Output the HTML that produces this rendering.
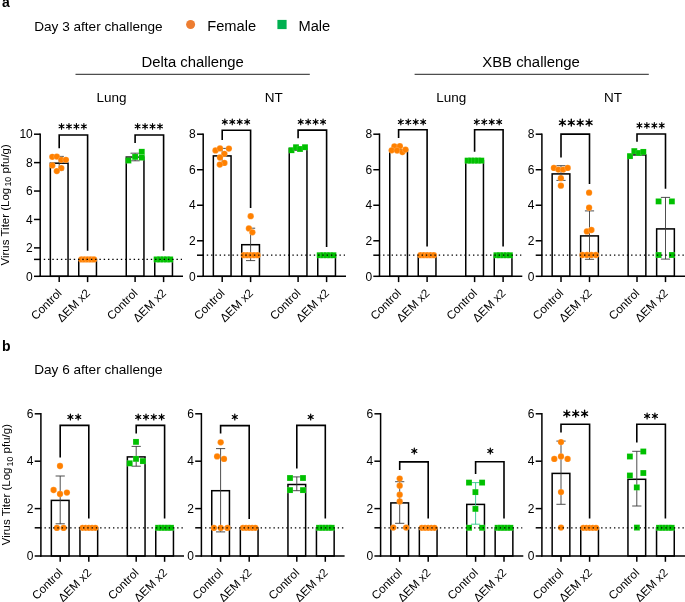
<!DOCTYPE html><html><head><meta charset="utf-8"><style>html,body{margin:0;padding:0;background:#fff;}svg{display:block;will-change:transform;}text{font-family:"Liberation Sans",sans-serif;}</style></head><body>
<svg width="685" height="602" viewBox="0 0 685 602">
<rect width="685" height="602" fill="#fff"/>
<text x="2.00" y="7.30" font-size="14" text-anchor="start" font-weight="bold" fill="#000" >a</text>
<text x="34.20" y="30.85" font-size="13.6" text-anchor="start" font-weight="normal" fill="#000" >Day 3 after challenge</text>
<circle cx="190.6" cy="24.5" r="4.5" fill="#ED7D31"/>
<text x="207.20" y="30.70" font-size="14.67" text-anchor="start" font-weight="normal" fill="#000" >Female</text>
<rect x="277.4" y="19.9" width="9.2" height="9.2" fill="#00B050"/>
<text x="298.50" y="30.70" font-size="14.67" text-anchor="start" font-weight="normal" fill="#000" >Male</text>
<text x="192.65" y="66.80" font-size="14.85" text-anchor="middle" font-weight="normal" fill="#000" >Delta challenge</text>
<text x="531.05" y="66.80" font-size="14.9" text-anchor="middle" font-weight="normal" fill="#000" >XBB challenge</text>
<line x1="75.50" y1="74.30" x2="309.80" y2="74.30" stroke="#222" stroke-width="1.0" />
<line x1="414.60" y1="74.30" x2="648.80" y2="74.30" stroke="#222" stroke-width="1.0" />
<text x="111.40" y="101.75" font-size="13.5" text-anchor="middle" font-weight="normal" fill="#000" >Lung</text>
<text x="273.80" y="101.75" font-size="13.5" text-anchor="middle" font-weight="normal" fill="#000" >NT</text>
<text x="451.30" y="101.75" font-size="13.5" text-anchor="middle" font-weight="normal" fill="#000" >Lung</text>
<text x="613.00" y="101.75" font-size="13.5" text-anchor="middle" font-weight="normal" fill="#000" >NT</text>
<text transform="translate(8.70,265.50) rotate(-90)" font-size="11.5">Virus Titer (Log</text>
<text transform="translate(11.00,186.60) rotate(-90)" font-size="8.8">10</text>
<text transform="translate(8.70,173.60) rotate(-90)" font-size="11.5">pfu/g)</text>
<text transform="translate(10.40,545.30) rotate(-90)" font-size="11.5">Virus Titer (Log</text>
<text transform="translate(12.70,466.40) rotate(-90)" font-size="8.8">10</text>
<text transform="translate(10.40,453.40) rotate(-90)" font-size="11.5">pfu/g)</text>
<rect x="50.35" y="163.20" width="17.7" height="113.10" fill="none" stroke="#000" stroke-width="1.5"/>
<rect x="78.75" y="259.40" width="17.7" height="16.90" fill="none" stroke="#000" stroke-width="1.5"/>
<rect x="126.25" y="157.10" width="17.7" height="119.20" fill="none" stroke="#000" stroke-width="1.5"/>
<rect x="154.75" y="259.40" width="17.7" height="16.90" fill="none" stroke="#000" stroke-width="1.5"/>
<line x1="59.20" y1="156.40" x2="59.20" y2="170.00" stroke="#3a3a3a" stroke-width="0.9" />
<line x1="54.60" y1="156.40" x2="63.80" y2="156.40" stroke="#3a3a3a" stroke-width="0.9" />
<line x1="54.60" y1="170.00" x2="63.80" y2="170.00" stroke="#3a3a3a" stroke-width="0.9" />
<line x1="135.10" y1="153.20" x2="135.10" y2="160.80" stroke="#3a3a3a" stroke-width="0.9" />
<line x1="130.50" y1="153.20" x2="139.70" y2="153.20" stroke="#3a3a3a" stroke-width="0.9" />
<line x1="130.50" y1="160.80" x2="139.70" y2="160.80" stroke="#3a3a3a" stroke-width="0.9" />
<circle cx="52.30" cy="156.80" r="3.15" fill="#FF8000" stroke="#fff" stroke-opacity="0.35" stroke-width="0.5"/>
<circle cx="56.80" cy="156.60" r="3.15" fill="#FF8000" stroke="#fff" stroke-opacity="0.35" stroke-width="0.5"/>
<circle cx="61.30" cy="159.80" r="3.15" fill="#FF8000" stroke="#fff" stroke-opacity="0.35" stroke-width="0.5"/>
<circle cx="65.90" cy="159.80" r="3.15" fill="#FF8000" stroke="#fff" stroke-opacity="0.35" stroke-width="0.5"/>
<circle cx="52.30" cy="165.40" r="3.15" fill="#FF8000" stroke="#fff" stroke-opacity="0.35" stroke-width="0.5"/>
<circle cx="61.30" cy="168.10" r="3.15" fill="#FF8000" stroke="#fff" stroke-opacity="0.35" stroke-width="0.5"/>
<circle cx="56.80" cy="171.10" r="3.15" fill="#FF8000" stroke="#fff" stroke-opacity="0.35" stroke-width="0.5"/>
<circle cx="81.40" cy="259.40" r="3.15" fill="#FF8000" stroke="#fff" stroke-opacity="0.35" stroke-width="0.5"/>
<circle cx="84.55" cy="259.40" r="3.15" fill="#FF8000" stroke="#fff" stroke-opacity="0.35" stroke-width="0.5"/>
<circle cx="87.70" cy="259.40" r="3.15" fill="#FF8000" stroke="#fff" stroke-opacity="0.35" stroke-width="0.5"/>
<circle cx="90.85" cy="259.40" r="3.15" fill="#FF8000" stroke="#fff" stroke-opacity="0.35" stroke-width="0.5"/>
<circle cx="94.00" cy="259.40" r="3.15" fill="#FF8000" stroke="#fff" stroke-opacity="0.35" stroke-width="0.5"/>
<rect x="125.45" y="157.55" width="5.9" height="5.9" fill="#00C000" stroke="#fff" stroke-opacity="0.3" stroke-width="0.4"/>
<rect x="132.15" y="153.95" width="5.9" height="5.9" fill="#00C000" stroke="#fff" stroke-opacity="0.3" stroke-width="0.4"/>
<rect x="138.85" y="148.85" width="5.9" height="5.9" fill="#00C000" stroke="#fff" stroke-opacity="0.3" stroke-width="0.4"/>
<rect x="138.85" y="154.65" width="5.9" height="5.9" fill="#00C000" stroke="#fff" stroke-opacity="0.3" stroke-width="0.4"/>
<rect x="153.65" y="256.45" width="5.9" height="5.9" fill="#00C000" stroke="#fff" stroke-opacity="0.3" stroke-width="0.4"/>
<rect x="157.05" y="256.45" width="5.9" height="5.9" fill="#00C000" stroke="#fff" stroke-opacity="0.3" stroke-width="0.4"/>
<rect x="160.45" y="256.45" width="5.9" height="5.9" fill="#00C000" stroke="#fff" stroke-opacity="0.3" stroke-width="0.4"/>
<rect x="163.85" y="256.45" width="5.9" height="5.9" fill="#00C000" stroke="#fff" stroke-opacity="0.3" stroke-width="0.4"/>
<rect x="167.25" y="256.45" width="5.9" height="5.9" fill="#00C000" stroke="#fff" stroke-opacity="0.3" stroke-width="0.4"/>
<line x1="39.50" y1="259.40" x2="182.00" y2="259.40" stroke="#000" stroke-width="1.2" stroke-dasharray="1.4 2.88"/>
<line x1="40.20" y1="133.45" x2="40.20" y2="277.05" stroke="#000" stroke-width="1.5" />
<line x1="39.45" y1="276.30" x2="183.00" y2="276.30" stroke="#000" stroke-width="1.5" />
<line x1="34.00" y1="276.30" x2="40.20" y2="276.30" stroke="#000" stroke-width="1.5" />
<text x="32.80" y="280.50" font-size="12" text-anchor="end" font-weight="normal" fill="#000" >0</text>
<line x1="34.00" y1="247.88" x2="40.20" y2="247.88" stroke="#000" stroke-width="1.5" />
<text x="32.80" y="252.08" font-size="12" text-anchor="end" font-weight="normal" fill="#000" >2</text>
<line x1="34.00" y1="219.46" x2="40.20" y2="219.46" stroke="#000" stroke-width="1.5" />
<text x="32.80" y="223.66" font-size="12" text-anchor="end" font-weight="normal" fill="#000" >4</text>
<line x1="34.00" y1="191.04" x2="40.20" y2="191.04" stroke="#000" stroke-width="1.5" />
<text x="32.80" y="195.24" font-size="12" text-anchor="end" font-weight="normal" fill="#000" >6</text>
<line x1="34.00" y1="162.62" x2="40.20" y2="162.62" stroke="#000" stroke-width="1.5" />
<text x="32.80" y="166.82" font-size="12" text-anchor="end" font-weight="normal" fill="#000" >8</text>
<line x1="34.00" y1="134.20" x2="40.20" y2="134.20" stroke="#000" stroke-width="1.5" />
<text x="32.80" y="138.40" font-size="12" text-anchor="end" font-weight="normal" fill="#000" >10</text>
<line x1="34.00" y1="259.40" x2="40.20" y2="259.40" stroke="#000" stroke-width="1.5" />
<line x1="59.20" y1="276.30" x2="59.20" y2="282.10" stroke="#000" stroke-width="1.5" />
<text transform="translate(62.40,293.80) rotate(-45)" font-size="11.7" text-anchor="end">Control</text>
<line x1="87.60" y1="276.30" x2="87.60" y2="282.10" stroke="#000" stroke-width="1.5" />
<text transform="translate(90.80,293.80) rotate(-45)" font-size="11.7" text-anchor="end">&#916;EM x2</text>
<line x1="135.10" y1="276.30" x2="135.10" y2="282.10" stroke="#000" stroke-width="1.5" />
<text transform="translate(138.30,293.80) rotate(-45)" font-size="11.7" text-anchor="end">Control</text>
<line x1="163.60" y1="276.30" x2="163.60" y2="282.10" stroke="#000" stroke-width="1.5" />
<text transform="translate(166.80,293.80) rotate(-45)" font-size="11.7" text-anchor="end">&#916;EM x2</text>
<path d="M59.20 148.20V135.00H87.60V250.70" fill="none" stroke="#000" stroke-width="1.6"/>
<path d="M61.53 123.60L61.53 129.20M59.10 125.00L63.95 127.80M59.10 127.80L63.95 125.00" stroke="#000" stroke-width="1.16" stroke-linecap="round" fill="none"/>
<ellipse cx="61.53" cy="126.40" rx="1.23" ry="0.95" fill="#000"/>
<path d="M68.98 123.60L68.98 129.20M66.55 125.00L71.40 127.80M66.55 127.80L71.40 125.00" stroke="#000" stroke-width="1.16" stroke-linecap="round" fill="none"/>
<ellipse cx="68.98" cy="126.40" rx="1.23" ry="0.95" fill="#000"/>
<path d="M76.43 123.60L76.43 129.20M74.00 125.00L78.85 127.80M74.00 127.80L78.85 125.00" stroke="#000" stroke-width="1.16" stroke-linecap="round" fill="none"/>
<ellipse cx="76.43" cy="126.40" rx="1.23" ry="0.95" fill="#000"/>
<path d="M83.88 123.60L83.88 129.20M81.45 125.00L86.30 127.80M81.45 127.80L86.30 125.00" stroke="#000" stroke-width="1.16" stroke-linecap="round" fill="none"/>
<ellipse cx="83.88" cy="126.40" rx="1.23" ry="0.95" fill="#000"/>
<path d="M135.10 142.90V135.00H163.60V250.70" fill="none" stroke="#000" stroke-width="1.6"/>
<path d="M137.62 123.60L137.62 129.20M135.20 125.00L140.05 127.80M135.20 127.80L140.05 125.00" stroke="#000" stroke-width="1.16" stroke-linecap="round" fill="none"/>
<ellipse cx="137.62" cy="126.40" rx="1.23" ry="0.95" fill="#000"/>
<path d="M145.07 123.60L145.07 129.20M142.65 125.00L147.50 127.80M142.65 127.80L147.50 125.00" stroke="#000" stroke-width="1.16" stroke-linecap="round" fill="none"/>
<ellipse cx="145.07" cy="126.40" rx="1.23" ry="0.95" fill="#000"/>
<path d="M152.53 123.60L152.53 129.20M150.10 125.00L154.95 127.80M150.10 127.80L154.95 125.00" stroke="#000" stroke-width="1.16" stroke-linecap="round" fill="none"/>
<ellipse cx="152.53" cy="126.40" rx="1.23" ry="0.95" fill="#000"/>
<path d="M159.97 123.60L159.97 129.20M157.55 125.00L162.40 127.80M157.55 127.80L162.40 125.00" stroke="#000" stroke-width="1.16" stroke-linecap="round" fill="none"/>
<ellipse cx="159.97" cy="126.40" rx="1.23" ry="0.95" fill="#000"/>
<rect x="213.35" y="155.90" width="17.7" height="120.40" fill="none" stroke="#000" stroke-width="1.5"/>
<rect x="241.75" y="244.70" width="17.7" height="31.60" fill="none" stroke="#000" stroke-width="1.5"/>
<rect x="289.25" y="148.60" width="17.7" height="127.70" fill="none" stroke="#000" stroke-width="1.5"/>
<rect x="317.75" y="255.20" width="17.7" height="21.10" fill="none" stroke="#000" stroke-width="1.5"/>
<line x1="222.20" y1="148.40" x2="222.20" y2="163.20" stroke="#3a3a3a" stroke-width="0.9" />
<line x1="217.60" y1="148.40" x2="226.80" y2="148.40" stroke="#3a3a3a" stroke-width="0.9" />
<line x1="217.60" y1="163.20" x2="226.80" y2="163.20" stroke="#3a3a3a" stroke-width="0.9" />
<line x1="250.60" y1="228.20" x2="250.60" y2="260.60" stroke="#3a3a3a" stroke-width="0.9" />
<line x1="246.00" y1="228.20" x2="255.20" y2="228.20" stroke="#3a3a3a" stroke-width="0.9" />
<line x1="246.00" y1="260.60" x2="255.20" y2="260.60" stroke="#3a3a3a" stroke-width="0.9" />
<line x1="298.10" y1="147.00" x2="298.10" y2="150.50" stroke="#3a3a3a" stroke-width="0.9" />
<line x1="293.50" y1="147.00" x2="302.70" y2="147.00" stroke="#3a3a3a" stroke-width="0.9" />
<line x1="293.50" y1="150.50" x2="302.70" y2="150.50" stroke="#3a3a3a" stroke-width="0.9" />
<circle cx="215.50" cy="150.40" r="3.15" fill="#FF8000" stroke="#fff" stroke-opacity="0.35" stroke-width="0.5"/>
<circle cx="220.00" cy="148.40" r="3.15" fill="#FF8000" stroke="#fff" stroke-opacity="0.35" stroke-width="0.5"/>
<circle cx="228.90" cy="148.60" r="3.15" fill="#FF8000" stroke="#fff" stroke-opacity="0.35" stroke-width="0.5"/>
<circle cx="224.40" cy="153.80" r="3.15" fill="#FF8000" stroke="#fff" stroke-opacity="0.35" stroke-width="0.5"/>
<circle cx="220.00" cy="157.50" r="3.15" fill="#FF8000" stroke="#fff" stroke-opacity="0.35" stroke-width="0.5"/>
<circle cx="224.40" cy="162.90" r="3.15" fill="#FF8000" stroke="#fff" stroke-opacity="0.35" stroke-width="0.5"/>
<circle cx="219.80" cy="164.60" r="3.15" fill="#FF8000" stroke="#fff" stroke-opacity="0.35" stroke-width="0.5"/>
<circle cx="250.70" cy="216.20" r="3.15" fill="#FF8000" stroke="#fff" stroke-opacity="0.35" stroke-width="0.5"/>
<circle cx="248.90" cy="228.40" r="3.15" fill="#FF8000" stroke="#fff" stroke-opacity="0.35" stroke-width="0.5"/>
<circle cx="252.40" cy="232.30" r="3.15" fill="#FF8000" stroke="#fff" stroke-opacity="0.35" stroke-width="0.5"/>
<circle cx="243.80" cy="255.20" r="3.15" fill="#FF8000" stroke="#fff" stroke-opacity="0.35" stroke-width="0.5"/>
<circle cx="247.22" cy="255.20" r="3.15" fill="#FF8000" stroke="#fff" stroke-opacity="0.35" stroke-width="0.5"/>
<circle cx="250.65" cy="255.20" r="3.15" fill="#FF8000" stroke="#fff" stroke-opacity="0.35" stroke-width="0.5"/>
<circle cx="254.07" cy="255.20" r="3.15" fill="#FF8000" stroke="#fff" stroke-opacity="0.35" stroke-width="0.5"/>
<circle cx="257.50" cy="255.20" r="3.15" fill="#FF8000" stroke="#fff" stroke-opacity="0.35" stroke-width="0.5"/>
<rect x="288.55" y="147.25" width="5.9" height="5.9" fill="#00C000" stroke="#fff" stroke-opacity="0.3" stroke-width="0.4"/>
<rect x="293.05" y="144.25" width="5.9" height="5.9" fill="#00C000" stroke="#fff" stroke-opacity="0.3" stroke-width="0.4"/>
<rect x="297.05" y="146.05" width="5.9" height="5.9" fill="#00C000" stroke="#fff" stroke-opacity="0.3" stroke-width="0.4"/>
<rect x="302.05" y="144.25" width="5.9" height="5.9" fill="#00C000" stroke="#fff" stroke-opacity="0.3" stroke-width="0.4"/>
<rect x="316.75" y="252.25" width="5.9" height="5.9" fill="#00C000" stroke="#fff" stroke-opacity="0.3" stroke-width="0.4"/>
<rect x="320.18" y="252.25" width="5.9" height="5.9" fill="#00C000" stroke="#fff" stroke-opacity="0.3" stroke-width="0.4"/>
<rect x="323.60" y="252.25" width="5.9" height="5.9" fill="#00C000" stroke="#fff" stroke-opacity="0.3" stroke-width="0.4"/>
<rect x="327.03" y="252.25" width="5.9" height="5.9" fill="#00C000" stroke="#fff" stroke-opacity="0.3" stroke-width="0.4"/>
<rect x="330.45" y="252.25" width="5.9" height="5.9" fill="#00C000" stroke="#fff" stroke-opacity="0.3" stroke-width="0.4"/>
<line x1="202.50" y1="255.20" x2="345.00" y2="255.20" stroke="#000" stroke-width="1.2" stroke-dasharray="1.4 2.88"/>
<line x1="203.20" y1="133.45" x2="203.20" y2="277.05" stroke="#000" stroke-width="1.5" />
<line x1="202.45" y1="276.30" x2="346.00" y2="276.30" stroke="#000" stroke-width="1.5" />
<line x1="197.00" y1="276.30" x2="203.20" y2="276.30" stroke="#000" stroke-width="1.5" />
<text x="195.80" y="280.50" font-size="12" text-anchor="end" font-weight="normal" fill="#000" >0</text>
<line x1="197.00" y1="240.78" x2="203.20" y2="240.78" stroke="#000" stroke-width="1.5" />
<text x="195.80" y="244.97" font-size="12" text-anchor="end" font-weight="normal" fill="#000" >2</text>
<line x1="197.00" y1="205.25" x2="203.20" y2="205.25" stroke="#000" stroke-width="1.5" />
<text x="195.80" y="209.45" font-size="12" text-anchor="end" font-weight="normal" fill="#000" >4</text>
<line x1="197.00" y1="169.72" x2="203.20" y2="169.72" stroke="#000" stroke-width="1.5" />
<text x="195.80" y="173.92" font-size="12" text-anchor="end" font-weight="normal" fill="#000" >6</text>
<line x1="197.00" y1="134.20" x2="203.20" y2="134.20" stroke="#000" stroke-width="1.5" />
<text x="195.80" y="138.40" font-size="12" text-anchor="end" font-weight="normal" fill="#000" >8</text>
<line x1="197.00" y1="255.20" x2="203.20" y2="255.20" stroke="#000" stroke-width="1.5" />
<line x1="222.20" y1="276.30" x2="222.20" y2="282.10" stroke="#000" stroke-width="1.5" />
<text transform="translate(225.40,293.80) rotate(-45)" font-size="11.7" text-anchor="end">Control</text>
<line x1="250.60" y1="276.30" x2="250.60" y2="282.10" stroke="#000" stroke-width="1.5" />
<text transform="translate(253.80,293.80) rotate(-45)" font-size="11.7" text-anchor="end">&#916;EM x2</text>
<line x1="298.10" y1="276.30" x2="298.10" y2="282.10" stroke="#000" stroke-width="1.5" />
<text transform="translate(301.30,293.80) rotate(-45)" font-size="11.7" text-anchor="end">Control</text>
<line x1="326.60" y1="276.30" x2="326.60" y2="282.10" stroke="#000" stroke-width="1.5" />
<text transform="translate(329.80,293.80) rotate(-45)" font-size="11.7" text-anchor="end">&#916;EM x2</text>
<path d="M222.20 140.00V130.30H250.60V207.90" fill="none" stroke="#000" stroke-width="1.6"/>
<path d="M224.82 119.10L224.82 124.70M222.40 120.50L227.25 123.30M222.40 123.30L227.25 120.50" stroke="#000" stroke-width="1.16" stroke-linecap="round" fill="none"/>
<ellipse cx="224.82" cy="121.90" rx="1.23" ry="0.95" fill="#000"/>
<path d="M232.27 119.10L232.27 124.70M229.85 120.50L234.70 123.30M229.85 123.30L234.70 120.50" stroke="#000" stroke-width="1.16" stroke-linecap="round" fill="none"/>
<ellipse cx="232.27" cy="121.90" rx="1.23" ry="0.95" fill="#000"/>
<path d="M239.72 119.10L239.72 124.70M237.30 120.50L242.15 123.30M237.30 123.30L242.15 120.50" stroke="#000" stroke-width="1.16" stroke-linecap="round" fill="none"/>
<ellipse cx="239.72" cy="121.90" rx="1.23" ry="0.95" fill="#000"/>
<path d="M247.17 119.10L247.17 124.70M244.75 120.50L249.60 123.30M244.75 123.30L249.60 120.50" stroke="#000" stroke-width="1.16" stroke-linecap="round" fill="none"/>
<ellipse cx="247.17" cy="121.90" rx="1.23" ry="0.95" fill="#000"/>
<path d="M298.10 138.30V130.10H326.60V246.90" fill="none" stroke="#000" stroke-width="1.6"/>
<path d="M300.72 119.10L300.72 124.70M298.30 120.50L303.15 123.30M298.30 123.30L303.15 120.50" stroke="#000" stroke-width="1.16" stroke-linecap="round" fill="none"/>
<ellipse cx="300.72" cy="121.90" rx="1.23" ry="0.95" fill="#000"/>
<path d="M308.17 119.10L308.17 124.70M305.75 120.50L310.60 123.30M305.75 123.30L310.60 120.50" stroke="#000" stroke-width="1.16" stroke-linecap="round" fill="none"/>
<ellipse cx="308.17" cy="121.90" rx="1.23" ry="0.95" fill="#000"/>
<path d="M315.62 119.10L315.62 124.70M313.20 120.50L318.05 123.30M313.20 123.30L318.05 120.50" stroke="#000" stroke-width="1.16" stroke-linecap="round" fill="none"/>
<ellipse cx="315.62" cy="121.90" rx="1.23" ry="0.95" fill="#000"/>
<path d="M323.07 119.10L323.07 124.70M320.65 120.50L325.50 123.30M320.65 123.30L325.50 120.50" stroke="#000" stroke-width="1.16" stroke-linecap="round" fill="none"/>
<ellipse cx="323.07" cy="121.90" rx="1.23" ry="0.95" fill="#000"/>
<rect x="389.75" y="149.80" width="17.7" height="126.50" fill="none" stroke="#000" stroke-width="1.5"/>
<rect x="418.25" y="255.20" width="17.7" height="21.10" fill="none" stroke="#000" stroke-width="1.5"/>
<rect x="465.75" y="160.60" width="17.7" height="115.70" fill="none" stroke="#000" stroke-width="1.5"/>
<rect x="494.25" y="255.20" width="17.7" height="21.10" fill="none" stroke="#000" stroke-width="1.5"/>
<circle cx="394.40" cy="146.30" r="3.15" fill="#FF8000" stroke="#fff" stroke-opacity="0.35" stroke-width="0.5"/>
<circle cx="399.90" cy="146.20" r="3.15" fill="#FF8000" stroke="#fff" stroke-opacity="0.35" stroke-width="0.5"/>
<circle cx="391.70" cy="150.30" r="3.15" fill="#FF8000" stroke="#fff" stroke-opacity="0.35" stroke-width="0.5"/>
<circle cx="397.10" cy="150.50" r="3.15" fill="#FF8000" stroke="#fff" stroke-opacity="0.35" stroke-width="0.5"/>
<circle cx="402.40" cy="152.10" r="3.15" fill="#FF8000" stroke="#fff" stroke-opacity="0.35" stroke-width="0.5"/>
<circle cx="405.50" cy="149.60" r="3.15" fill="#FF8000" stroke="#fff" stroke-opacity="0.35" stroke-width="0.5"/>
<circle cx="420.50" cy="255.20" r="3.15" fill="#FF8000" stroke="#fff" stroke-opacity="0.35" stroke-width="0.5"/>
<circle cx="423.82" cy="255.20" r="3.15" fill="#FF8000" stroke="#fff" stroke-opacity="0.35" stroke-width="0.5"/>
<circle cx="427.15" cy="255.20" r="3.15" fill="#FF8000" stroke="#fff" stroke-opacity="0.35" stroke-width="0.5"/>
<circle cx="430.47" cy="255.20" r="3.15" fill="#FF8000" stroke="#fff" stroke-opacity="0.35" stroke-width="0.5"/>
<circle cx="433.80" cy="255.20" r="3.15" fill="#FF8000" stroke="#fff" stroke-opacity="0.35" stroke-width="0.5"/>
<rect x="464.65" y="157.65" width="5.9" height="5.9" fill="#00C000" stroke="#fff" stroke-opacity="0.3" stroke-width="0.4"/>
<rect x="468.07" y="157.65" width="5.9" height="5.9" fill="#00C000" stroke="#fff" stroke-opacity="0.3" stroke-width="0.4"/>
<rect x="471.50" y="157.65" width="5.9" height="5.9" fill="#00C000" stroke="#fff" stroke-opacity="0.3" stroke-width="0.4"/>
<rect x="474.93" y="157.65" width="5.9" height="5.9" fill="#00C000" stroke="#fff" stroke-opacity="0.3" stroke-width="0.4"/>
<rect x="478.35" y="157.65" width="5.9" height="5.9" fill="#00C000" stroke="#fff" stroke-opacity="0.3" stroke-width="0.4"/>
<rect x="493.45" y="252.25" width="5.9" height="5.9" fill="#00C000" stroke="#fff" stroke-opacity="0.3" stroke-width="0.4"/>
<rect x="496.83" y="252.25" width="5.9" height="5.9" fill="#00C000" stroke="#fff" stroke-opacity="0.3" stroke-width="0.4"/>
<rect x="500.20" y="252.25" width="5.9" height="5.9" fill="#00C000" stroke="#fff" stroke-opacity="0.3" stroke-width="0.4"/>
<rect x="503.57" y="252.25" width="5.9" height="5.9" fill="#00C000" stroke="#fff" stroke-opacity="0.3" stroke-width="0.4"/>
<rect x="506.95" y="252.25" width="5.9" height="5.9" fill="#00C000" stroke="#fff" stroke-opacity="0.3" stroke-width="0.4"/>
<line x1="378.80" y1="255.20" x2="521.30" y2="255.20" stroke="#000" stroke-width="1.2" stroke-dasharray="1.4 2.88"/>
<line x1="379.50" y1="133.45" x2="379.50" y2="277.05" stroke="#000" stroke-width="1.5" />
<line x1="378.75" y1="276.30" x2="522.30" y2="276.30" stroke="#000" stroke-width="1.5" />
<line x1="373.30" y1="276.30" x2="379.50" y2="276.30" stroke="#000" stroke-width="1.5" />
<text x="372.10" y="280.50" font-size="12" text-anchor="end" font-weight="normal" fill="#000" >0</text>
<line x1="373.30" y1="240.78" x2="379.50" y2="240.78" stroke="#000" stroke-width="1.5" />
<text x="372.10" y="244.97" font-size="12" text-anchor="end" font-weight="normal" fill="#000" >2</text>
<line x1="373.30" y1="205.25" x2="379.50" y2="205.25" stroke="#000" stroke-width="1.5" />
<text x="372.10" y="209.45" font-size="12" text-anchor="end" font-weight="normal" fill="#000" >4</text>
<line x1="373.30" y1="169.72" x2="379.50" y2="169.72" stroke="#000" stroke-width="1.5" />
<text x="372.10" y="173.92" font-size="12" text-anchor="end" font-weight="normal" fill="#000" >6</text>
<line x1="373.30" y1="134.20" x2="379.50" y2="134.20" stroke="#000" stroke-width="1.5" />
<text x="372.10" y="138.40" font-size="12" text-anchor="end" font-weight="normal" fill="#000" >8</text>
<line x1="373.30" y1="255.20" x2="379.50" y2="255.20" stroke="#000" stroke-width="1.5" />
<line x1="398.60" y1="276.30" x2="398.60" y2="282.10" stroke="#000" stroke-width="1.5" />
<text transform="translate(401.80,293.80) rotate(-45)" font-size="11.7" text-anchor="end">Control</text>
<line x1="427.10" y1="276.30" x2="427.10" y2="282.10" stroke="#000" stroke-width="1.5" />
<text transform="translate(430.30,293.80) rotate(-45)" font-size="11.7" text-anchor="end">&#916;EM x2</text>
<line x1="474.60" y1="276.30" x2="474.60" y2="282.10" stroke="#000" stroke-width="1.5" />
<text transform="translate(477.80,293.80) rotate(-45)" font-size="11.7" text-anchor="end">Control</text>
<line x1="503.10" y1="276.30" x2="503.10" y2="282.10" stroke="#000" stroke-width="1.5" />
<text transform="translate(506.30,293.80) rotate(-45)" font-size="11.7" text-anchor="end">&#916;EM x2</text>
<path d="M398.60 137.90V129.70H427.10V246.40" fill="none" stroke="#000" stroke-width="1.6"/>
<path d="M400.82 119.20L400.82 124.80M398.40 120.60L403.25 123.40M398.40 123.40L403.25 120.60" stroke="#000" stroke-width="1.16" stroke-linecap="round" fill="none"/>
<ellipse cx="400.82" cy="122.00" rx="1.23" ry="0.95" fill="#000"/>
<path d="M408.27 119.20L408.27 124.80M405.85 120.60L410.70 123.40M405.85 123.40L410.70 120.60" stroke="#000" stroke-width="1.16" stroke-linecap="round" fill="none"/>
<ellipse cx="408.27" cy="122.00" rx="1.23" ry="0.95" fill="#000"/>
<path d="M415.72 119.20L415.72 124.80M413.30 120.60L418.15 123.40M413.30 123.40L418.15 120.60" stroke="#000" stroke-width="1.16" stroke-linecap="round" fill="none"/>
<ellipse cx="415.72" cy="122.00" rx="1.23" ry="0.95" fill="#000"/>
<path d="M423.18 119.20L423.18 124.80M420.75 120.60L425.60 123.40M420.75 123.40L425.60 120.60" stroke="#000" stroke-width="1.16" stroke-linecap="round" fill="none"/>
<ellipse cx="423.18" cy="122.00" rx="1.23" ry="0.95" fill="#000"/>
<path d="M474.60 151.70V129.70H503.10V246.40" fill="none" stroke="#000" stroke-width="1.6"/>
<path d="M476.82 119.20L476.82 124.80M474.40 120.60L479.25 123.40M474.40 123.40L479.25 120.60" stroke="#000" stroke-width="1.16" stroke-linecap="round" fill="none"/>
<ellipse cx="476.82" cy="122.00" rx="1.23" ry="0.95" fill="#000"/>
<path d="M484.27 119.20L484.27 124.80M481.85 120.60L486.70 123.40M481.85 123.40L486.70 120.60" stroke="#000" stroke-width="1.16" stroke-linecap="round" fill="none"/>
<ellipse cx="484.27" cy="122.00" rx="1.23" ry="0.95" fill="#000"/>
<path d="M491.72 119.20L491.72 124.80M489.30 120.60L494.15 123.40M489.30 123.40L494.15 120.60" stroke="#000" stroke-width="1.16" stroke-linecap="round" fill="none"/>
<ellipse cx="491.72" cy="122.00" rx="1.23" ry="0.95" fill="#000"/>
<path d="M499.18 119.20L499.18 124.80M496.75 120.60L501.60 123.40M496.75 123.40L501.60 120.60" stroke="#000" stroke-width="1.16" stroke-linecap="round" fill="none"/>
<ellipse cx="499.18" cy="122.00" rx="1.23" ry="0.95" fill="#000"/>
<rect x="552.15" y="173.90" width="17.7" height="102.40" fill="none" stroke="#000" stroke-width="1.5"/>
<rect x="580.65" y="235.90" width="17.7" height="40.40" fill="none" stroke="#000" stroke-width="1.5"/>
<rect x="628.15" y="154.90" width="17.7" height="121.40" fill="none" stroke="#000" stroke-width="1.5"/>
<rect x="656.65" y="228.90" width="17.7" height="47.40" fill="none" stroke="#000" stroke-width="1.5"/>
<line x1="561.00" y1="165.70" x2="561.00" y2="180.40" stroke="#3a3a3a" stroke-width="0.9" />
<line x1="556.40" y1="165.70" x2="565.60" y2="165.70" stroke="#3a3a3a" stroke-width="0.9" />
<line x1="556.40" y1="180.40" x2="565.60" y2="180.40" stroke="#3a3a3a" stroke-width="0.9" />
<line x1="589.50" y1="210.90" x2="589.50" y2="259.30" stroke="#3a3a3a" stroke-width="0.9" />
<line x1="584.90" y1="210.90" x2="594.10" y2="210.90" stroke="#3a3a3a" stroke-width="0.9" />
<line x1="584.90" y1="259.30" x2="594.10" y2="259.30" stroke="#3a3a3a" stroke-width="0.9" />
<line x1="665.50" y1="197.40" x2="665.50" y2="259.10" stroke="#3a3a3a" stroke-width="0.9" />
<line x1="660.90" y1="197.40" x2="670.10" y2="197.40" stroke="#3a3a3a" stroke-width="0.9" />
<line x1="660.90" y1="259.10" x2="670.10" y2="259.10" stroke="#3a3a3a" stroke-width="0.9" />
<circle cx="553.90" cy="167.90" r="3.15" fill="#FF8000" stroke="#fff" stroke-opacity="0.35" stroke-width="0.5"/>
<circle cx="558.40" cy="169.60" r="3.15" fill="#FF8000" stroke="#fff" stroke-opacity="0.35" stroke-width="0.5"/>
<circle cx="563.20" cy="169.60" r="3.15" fill="#FF8000" stroke="#fff" stroke-opacity="0.35" stroke-width="0.5"/>
<circle cx="567.70" cy="167.90" r="3.15" fill="#FF8000" stroke="#fff" stroke-opacity="0.35" stroke-width="0.5"/>
<circle cx="560.90" cy="178.20" r="3.15" fill="#FF8000" stroke="#fff" stroke-opacity="0.35" stroke-width="0.5"/>
<circle cx="560.90" cy="185.70" r="3.15" fill="#FF8000" stroke="#fff" stroke-opacity="0.35" stroke-width="0.5"/>
<circle cx="589.10" cy="192.70" r="3.15" fill="#FF8000" stroke="#fff" stroke-opacity="0.35" stroke-width="0.5"/>
<circle cx="589.10" cy="207.70" r="3.15" fill="#FF8000" stroke="#fff" stroke-opacity="0.35" stroke-width="0.5"/>
<circle cx="586.90" cy="231.40" r="3.15" fill="#FF8000" stroke="#fff" stroke-opacity="0.35" stroke-width="0.5"/>
<circle cx="591.40" cy="230.00" r="3.15" fill="#FF8000" stroke="#fff" stroke-opacity="0.35" stroke-width="0.5"/>
<circle cx="582.50" cy="255.00" r="3.15" fill="#FF8000" stroke="#fff" stroke-opacity="0.35" stroke-width="0.5"/>
<circle cx="586.90" cy="255.00" r="3.15" fill="#FF8000" stroke="#fff" stroke-opacity="0.35" stroke-width="0.5"/>
<circle cx="591.40" cy="255.00" r="3.15" fill="#FF8000" stroke="#fff" stroke-opacity="0.35" stroke-width="0.5"/>
<circle cx="595.90" cy="255.00" r="3.15" fill="#FF8000" stroke="#fff" stroke-opacity="0.35" stroke-width="0.5"/>
<rect x="627.05" y="153.15" width="5.9" height="5.9" fill="#00C000" stroke="#fff" stroke-opacity="0.3" stroke-width="0.4"/>
<rect x="631.35" y="148.15" width="5.9" height="5.9" fill="#00C000" stroke="#fff" stroke-opacity="0.3" stroke-width="0.4"/>
<rect x="635.95" y="150.05" width="5.9" height="5.9" fill="#00C000" stroke="#fff" stroke-opacity="0.3" stroke-width="0.4"/>
<rect x="640.35" y="148.95" width="5.9" height="5.9" fill="#00C000" stroke="#fff" stroke-opacity="0.3" stroke-width="0.4"/>
<rect x="655.65" y="198.45" width="5.9" height="5.9" fill="#00C000" stroke="#fff" stroke-opacity="0.3" stroke-width="0.4"/>
<rect x="668.95" y="198.45" width="5.9" height="5.9" fill="#00C000" stroke="#fff" stroke-opacity="0.3" stroke-width="0.4"/>
<rect x="655.65" y="252.05" width="5.9" height="5.9" fill="#00C000" stroke="#fff" stroke-opacity="0.3" stroke-width="0.4"/>
<rect x="668.95" y="252.05" width="5.9" height="5.9" fill="#00C000" stroke="#fff" stroke-opacity="0.3" stroke-width="0.4"/>
<line x1="541.20" y1="255.20" x2="684.50" y2="255.20" stroke="#000" stroke-width="1.2" stroke-dasharray="1.4 2.88"/>
<line x1="541.90" y1="133.45" x2="541.90" y2="277.05" stroke="#000" stroke-width="1.5" />
<line x1="541.15" y1="276.30" x2="685.50" y2="276.30" stroke="#000" stroke-width="1.5" />
<line x1="535.70" y1="276.30" x2="541.90" y2="276.30" stroke="#000" stroke-width="1.5" />
<text x="534.50" y="280.50" font-size="12" text-anchor="end" font-weight="normal" fill="#000" >0</text>
<line x1="535.70" y1="240.78" x2="541.90" y2="240.78" stroke="#000" stroke-width="1.5" />
<text x="534.50" y="244.97" font-size="12" text-anchor="end" font-weight="normal" fill="#000" >2</text>
<line x1="535.70" y1="205.25" x2="541.90" y2="205.25" stroke="#000" stroke-width="1.5" />
<text x="534.50" y="209.45" font-size="12" text-anchor="end" font-weight="normal" fill="#000" >4</text>
<line x1="535.70" y1="169.72" x2="541.90" y2="169.72" stroke="#000" stroke-width="1.5" />
<text x="534.50" y="173.92" font-size="12" text-anchor="end" font-weight="normal" fill="#000" >6</text>
<line x1="535.70" y1="134.20" x2="541.90" y2="134.20" stroke="#000" stroke-width="1.5" />
<text x="534.50" y="138.40" font-size="12" text-anchor="end" font-weight="normal" fill="#000" >8</text>
<line x1="535.70" y1="255.20" x2="541.90" y2="255.20" stroke="#000" stroke-width="1.5" />
<line x1="561.00" y1="276.30" x2="561.00" y2="282.10" stroke="#000" stroke-width="1.5" />
<text transform="translate(564.20,293.80) rotate(-45)" font-size="11.7" text-anchor="end">Control</text>
<line x1="589.50" y1="276.30" x2="589.50" y2="282.10" stroke="#000" stroke-width="1.5" />
<text transform="translate(592.70,293.80) rotate(-45)" font-size="11.7" text-anchor="end">&#916;EM x2</text>
<line x1="637.00" y1="276.30" x2="637.00" y2="282.10" stroke="#000" stroke-width="1.5" />
<text transform="translate(640.20,293.80) rotate(-45)" font-size="11.7" text-anchor="end">Control</text>
<line x1="665.50" y1="276.30" x2="665.50" y2="282.10" stroke="#000" stroke-width="1.5" />
<text transform="translate(668.70,293.80) rotate(-45)" font-size="11.7" text-anchor="end">&#916;EM x2</text>
<path d="M561.00 157.50V134.10H589.50V183.90" fill="none" stroke="#000" stroke-width="1.6"/>
<path d="M562.40 119.30L562.40 126.10M559.46 121.00L565.34 124.40M559.46 124.40L565.34 121.00" stroke="#000" stroke-width="1.41" stroke-linecap="round" fill="none"/>
<ellipse cx="562.40" cy="122.70" rx="1.50" ry="1.16" fill="#000"/>
<path d="M571.30 119.30L571.30 126.10M568.36 121.00L574.24 124.40M568.36 124.40L574.24 121.00" stroke="#000" stroke-width="1.41" stroke-linecap="round" fill="none"/>
<ellipse cx="571.30" cy="122.70" rx="1.50" ry="1.16" fill="#000"/>
<path d="M580.20 119.30L580.20 126.10M577.26 121.00L583.14 124.40M577.26 124.40L583.14 121.00" stroke="#000" stroke-width="1.41" stroke-linecap="round" fill="none"/>
<ellipse cx="580.20" cy="122.70" rx="1.50" ry="1.16" fill="#000"/>
<path d="M589.10 119.30L589.10 126.10M586.16 121.00L592.04 124.40M586.16 124.40L592.04 121.00" stroke="#000" stroke-width="1.41" stroke-linecap="round" fill="none"/>
<ellipse cx="589.10" cy="122.70" rx="1.50" ry="1.16" fill="#000"/>
<path d="M637.00 141.70V134.00H665.50V188.70" fill="none" stroke="#000" stroke-width="1.6"/>
<path d="M639.43 122.70L639.43 128.30M637.00 124.10L641.85 126.90M637.00 126.90L641.85 124.10" stroke="#000" stroke-width="1.16" stroke-linecap="round" fill="none"/>
<ellipse cx="639.43" cy="125.50" rx="1.23" ry="0.95" fill="#000"/>
<path d="M646.88 122.70L646.88 128.30M644.45 124.10L649.30 126.90M644.45 126.90L649.30 124.10" stroke="#000" stroke-width="1.16" stroke-linecap="round" fill="none"/>
<ellipse cx="646.88" cy="125.50" rx="1.23" ry="0.95" fill="#000"/>
<path d="M654.33 122.70L654.33 128.30M651.90 124.10L656.75 126.90M651.90 126.90L656.75 124.10" stroke="#000" stroke-width="1.16" stroke-linecap="round" fill="none"/>
<ellipse cx="654.33" cy="125.50" rx="1.23" ry="0.95" fill="#000"/>
<path d="M661.78 122.70L661.78 128.30M659.35 124.10L664.20 126.90M659.35 126.90L664.20 124.10" stroke="#000" stroke-width="1.16" stroke-linecap="round" fill="none"/>
<ellipse cx="661.78" cy="125.50" rx="1.23" ry="0.95" fill="#000"/>
<text x="2.00" y="351.30" font-size="14" text-anchor="start" font-weight="bold" fill="#000" >b</text>
<text x="34.20" y="374.30" font-size="13.6" text-anchor="start" font-weight="normal" fill="#000" >Day 6 after challenge</text>
<rect x="51.35" y="500.40" width="17.7" height="55.60" fill="none" stroke="#000" stroke-width="1.5"/>
<rect x="79.95" y="527.80" width="17.7" height="28.20" fill="none" stroke="#000" stroke-width="1.5"/>
<rect x="127.35" y="456.90" width="17.7" height="99.10" fill="none" stroke="#000" stroke-width="1.5"/>
<rect x="155.75" y="527.80" width="17.7" height="28.20" fill="none" stroke="#000" stroke-width="1.5"/>
<line x1="60.20" y1="476.00" x2="60.20" y2="523.80" stroke="#3a3a3a" stroke-width="0.9" />
<line x1="55.60" y1="476.00" x2="64.80" y2="476.00" stroke="#3a3a3a" stroke-width="0.9" />
<line x1="55.60" y1="523.80" x2="64.80" y2="523.80" stroke="#3a3a3a" stroke-width="0.9" />
<line x1="136.20" y1="446.40" x2="136.20" y2="466.20" stroke="#3a3a3a" stroke-width="0.9" />
<line x1="131.60" y1="446.40" x2="140.80" y2="446.40" stroke="#3a3a3a" stroke-width="0.9" />
<line x1="131.60" y1="466.20" x2="140.80" y2="466.20" stroke="#3a3a3a" stroke-width="0.9" />
<circle cx="60.00" cy="466.00" r="3.15" fill="#FF8000" stroke="#fff" stroke-opacity="0.35" stroke-width="0.5"/>
<circle cx="53.60" cy="490.00" r="3.15" fill="#FF8000" stroke="#fff" stroke-opacity="0.35" stroke-width="0.5"/>
<circle cx="60.00" cy="494.00" r="3.15" fill="#FF8000" stroke="#fff" stroke-opacity="0.35" stroke-width="0.5"/>
<circle cx="66.90" cy="492.60" r="3.15" fill="#FF8000" stroke="#fff" stroke-opacity="0.35" stroke-width="0.5"/>
<circle cx="56.90" cy="527.90" r="3.15" fill="#FF8000" stroke="#fff" stroke-opacity="0.35" stroke-width="0.5"/>
<circle cx="63.60" cy="527.90" r="3.15" fill="#FF8000" stroke="#fff" stroke-opacity="0.35" stroke-width="0.5"/>
<circle cx="82.60" cy="527.80" r="3.15" fill="#FF8000" stroke="#fff" stroke-opacity="0.35" stroke-width="0.5"/>
<circle cx="85.78" cy="527.80" r="3.15" fill="#FF8000" stroke="#fff" stroke-opacity="0.35" stroke-width="0.5"/>
<circle cx="88.95" cy="527.80" r="3.15" fill="#FF8000" stroke="#fff" stroke-opacity="0.35" stroke-width="0.5"/>
<circle cx="92.12" cy="527.80" r="3.15" fill="#FF8000" stroke="#fff" stroke-opacity="0.35" stroke-width="0.5"/>
<circle cx="95.30" cy="527.80" r="3.15" fill="#FF8000" stroke="#fff" stroke-opacity="0.35" stroke-width="0.5"/>
<rect x="133.05" y="438.95" width="5.9" height="5.9" fill="#00C000" stroke="#fff" stroke-opacity="0.3" stroke-width="0.4"/>
<rect x="126.75" y="460.35" width="5.9" height="5.9" fill="#00C000" stroke="#fff" stroke-opacity="0.3" stroke-width="0.4"/>
<rect x="133.05" y="455.95" width="5.9" height="5.9" fill="#00C000" stroke="#fff" stroke-opacity="0.3" stroke-width="0.4"/>
<rect x="139.95" y="458.15" width="5.9" height="5.9" fill="#00C000" stroke="#fff" stroke-opacity="0.3" stroke-width="0.4"/>
<rect x="155.15" y="524.85" width="5.9" height="5.9" fill="#00C000" stroke="#fff" stroke-opacity="0.3" stroke-width="0.4"/>
<rect x="158.38" y="524.85" width="5.9" height="5.9" fill="#00C000" stroke="#fff" stroke-opacity="0.3" stroke-width="0.4"/>
<rect x="161.60" y="524.85" width="5.9" height="5.9" fill="#00C000" stroke="#fff" stroke-opacity="0.3" stroke-width="0.4"/>
<rect x="164.83" y="524.85" width="5.9" height="5.9" fill="#00C000" stroke="#fff" stroke-opacity="0.3" stroke-width="0.4"/>
<rect x="168.05" y="524.85" width="5.9" height="5.9" fill="#00C000" stroke="#fff" stroke-opacity="0.3" stroke-width="0.4"/>
<line x1="40.20" y1="527.80" x2="183.00" y2="527.80" stroke="#000" stroke-width="1.2" stroke-dasharray="1.4 2.88"/>
<line x1="40.90" y1="413.05" x2="40.90" y2="556.75" stroke="#000" stroke-width="1.5" />
<line x1="40.15" y1="556.00" x2="184.00" y2="556.00" stroke="#000" stroke-width="1.5" />
<line x1="34.70" y1="556.00" x2="40.90" y2="556.00" stroke="#000" stroke-width="1.5" />
<text x="33.50" y="560.20" font-size="12" text-anchor="end" font-weight="normal" fill="#000" >0</text>
<line x1="34.70" y1="508.60" x2="40.90" y2="508.60" stroke="#000" stroke-width="1.5" />
<text x="33.50" y="512.80" font-size="12" text-anchor="end" font-weight="normal" fill="#000" >2</text>
<line x1="34.70" y1="461.20" x2="40.90" y2="461.20" stroke="#000" stroke-width="1.5" />
<text x="33.50" y="465.40" font-size="12" text-anchor="end" font-weight="normal" fill="#000" >4</text>
<line x1="34.70" y1="413.80" x2="40.90" y2="413.80" stroke="#000" stroke-width="1.5" />
<text x="33.50" y="418.00" font-size="12" text-anchor="end" font-weight="normal" fill="#000" >6</text>
<line x1="34.70" y1="527.80" x2="40.90" y2="527.80" stroke="#000" stroke-width="1.5" />
<line x1="60.20" y1="556.00" x2="60.20" y2="561.80" stroke="#000" stroke-width="1.5" />
<text transform="translate(63.40,573.50) rotate(-45)" font-size="11.7" text-anchor="end">Control</text>
<line x1="88.80" y1="556.00" x2="88.80" y2="561.80" stroke="#000" stroke-width="1.5" />
<text transform="translate(92.00,573.50) rotate(-45)" font-size="11.7" text-anchor="end">&#916;EM x2</text>
<line x1="136.20" y1="556.00" x2="136.20" y2="561.80" stroke="#000" stroke-width="1.5" />
<text transform="translate(139.40,573.50) rotate(-45)" font-size="11.7" text-anchor="end">Control</text>
<line x1="164.60" y1="556.00" x2="164.60" y2="561.80" stroke="#000" stroke-width="1.5" />
<text transform="translate(167.80,573.50) rotate(-45)" font-size="11.7" text-anchor="end">&#916;EM x2</text>
<path d="M60.20 457.40V425.40H88.80V518.60" fill="none" stroke="#000" stroke-width="1.6"/>
<path d="M70.40 414.10L70.40 419.90M67.89 415.55L72.91 418.45M67.89 418.45L72.91 415.55" stroke="#000" stroke-width="1.20" stroke-linecap="round" fill="none"/>
<ellipse cx="70.40" cy="417.00" rx="1.28" ry="0.99" fill="#000"/>
<path d="M78.20 414.10L78.20 419.90M75.69 415.55L80.71 418.45M75.69 418.45L80.71 415.55" stroke="#000" stroke-width="1.20" stroke-linecap="round" fill="none"/>
<ellipse cx="78.20" cy="417.00" rx="1.28" ry="0.99" fill="#000"/>
<path d="M136.20 433.60V425.40H164.60V518.60" fill="none" stroke="#000" stroke-width="1.6"/>
<path d="M138.20 414.10L138.20 419.90M135.69 415.55L140.71 418.45M135.69 418.45L140.71 415.55" stroke="#000" stroke-width="1.20" stroke-linecap="round" fill="none"/>
<ellipse cx="138.20" cy="417.00" rx="1.28" ry="0.99" fill="#000"/>
<path d="M146.00 414.10L146.00 419.90M143.49 415.55L148.51 418.45M143.49 418.45L148.51 415.55" stroke="#000" stroke-width="1.20" stroke-linecap="round" fill="none"/>
<ellipse cx="146.00" cy="417.00" rx="1.28" ry="0.99" fill="#000"/>
<path d="M153.80 414.10L153.80 419.90M151.29 415.55L156.31 418.45M151.29 418.45L156.31 415.55" stroke="#000" stroke-width="1.20" stroke-linecap="round" fill="none"/>
<ellipse cx="153.80" cy="417.00" rx="1.28" ry="0.99" fill="#000"/>
<path d="M161.60 414.10L161.60 419.90M159.09 415.55L164.11 418.45M159.09 418.45L164.11 415.55" stroke="#000" stroke-width="1.20" stroke-linecap="round" fill="none"/>
<ellipse cx="161.60" cy="417.00" rx="1.28" ry="0.99" fill="#000"/>
<rect x="211.75" y="490.70" width="17.7" height="65.30" fill="none" stroke="#000" stroke-width="1.5"/>
<rect x="240.35" y="527.80" width="17.7" height="28.20" fill="none" stroke="#000" stroke-width="1.5"/>
<rect x="287.95" y="484.50" width="17.7" height="71.50" fill="none" stroke="#000" stroke-width="1.5"/>
<rect x="316.45" y="527.80" width="17.7" height="28.20" fill="none" stroke="#000" stroke-width="1.5"/>
<line x1="220.60" y1="448.60" x2="220.60" y2="531.90" stroke="#3a3a3a" stroke-width="0.9" />
<line x1="216.00" y1="448.60" x2="225.20" y2="448.60" stroke="#3a3a3a" stroke-width="0.9" />
<line x1="216.00" y1="531.90" x2="225.20" y2="531.90" stroke="#3a3a3a" stroke-width="0.9" />
<line x1="296.80" y1="476.90" x2="296.80" y2="490.70" stroke="#3a3a3a" stroke-width="0.9" />
<line x1="292.20" y1="476.90" x2="301.40" y2="476.90" stroke="#3a3a3a" stroke-width="0.9" />
<line x1="292.20" y1="490.70" x2="301.40" y2="490.70" stroke="#3a3a3a" stroke-width="0.9" />
<circle cx="220.70" cy="442.30" r="3.15" fill="#FF8000" stroke="#fff" stroke-opacity="0.35" stroke-width="0.5"/>
<circle cx="217.10" cy="456.40" r="3.15" fill="#FF8000" stroke="#fff" stroke-opacity="0.35" stroke-width="0.5"/>
<circle cx="224.00" cy="458.90" r="3.15" fill="#FF8000" stroke="#fff" stroke-opacity="0.35" stroke-width="0.5"/>
<circle cx="213.90" cy="527.90" r="3.15" fill="#FF8000" stroke="#fff" stroke-opacity="0.35" stroke-width="0.5"/>
<circle cx="220.70" cy="527.90" r="3.15" fill="#FF8000" stroke="#fff" stroke-opacity="0.35" stroke-width="0.5"/>
<circle cx="227.40" cy="527.90" r="3.15" fill="#FF8000" stroke="#fff" stroke-opacity="0.35" stroke-width="0.5"/>
<circle cx="243.00" cy="527.80" r="3.15" fill="#FF8000" stroke="#fff" stroke-opacity="0.35" stroke-width="0.5"/>
<circle cx="246.07" cy="527.80" r="3.15" fill="#FF8000" stroke="#fff" stroke-opacity="0.35" stroke-width="0.5"/>
<circle cx="249.15" cy="527.80" r="3.15" fill="#FF8000" stroke="#fff" stroke-opacity="0.35" stroke-width="0.5"/>
<circle cx="252.22" cy="527.80" r="3.15" fill="#FF8000" stroke="#fff" stroke-opacity="0.35" stroke-width="0.5"/>
<circle cx="255.30" cy="527.80" r="3.15" fill="#FF8000" stroke="#fff" stroke-opacity="0.35" stroke-width="0.5"/>
<rect x="287.05" y="475.05" width="5.9" height="5.9" fill="#00C000" stroke="#fff" stroke-opacity="0.3" stroke-width="0.4"/>
<rect x="300.05" y="475.05" width="5.9" height="5.9" fill="#00C000" stroke="#fff" stroke-opacity="0.3" stroke-width="0.4"/>
<rect x="287.05" y="487.15" width="5.9" height="5.9" fill="#00C000" stroke="#fff" stroke-opacity="0.3" stroke-width="0.4"/>
<rect x="300.05" y="487.15" width="5.9" height="5.9" fill="#00C000" stroke="#fff" stroke-opacity="0.3" stroke-width="0.4"/>
<rect x="316.05" y="524.85" width="5.9" height="5.9" fill="#00C000" stroke="#fff" stroke-opacity="0.3" stroke-width="0.4"/>
<rect x="319.23" y="524.85" width="5.9" height="5.9" fill="#00C000" stroke="#fff" stroke-opacity="0.3" stroke-width="0.4"/>
<rect x="322.40" y="524.85" width="5.9" height="5.9" fill="#00C000" stroke="#fff" stroke-opacity="0.3" stroke-width="0.4"/>
<rect x="325.57" y="524.85" width="5.9" height="5.9" fill="#00C000" stroke="#fff" stroke-opacity="0.3" stroke-width="0.4"/>
<rect x="328.75" y="524.85" width="5.9" height="5.9" fill="#00C000" stroke="#fff" stroke-opacity="0.3" stroke-width="0.4"/>
<line x1="200.70" y1="527.80" x2="343.60" y2="527.80" stroke="#000" stroke-width="1.2" stroke-dasharray="1.4 2.88"/>
<line x1="201.40" y1="413.05" x2="201.40" y2="556.75" stroke="#000" stroke-width="1.5" />
<line x1="200.65" y1="556.00" x2="344.60" y2="556.00" stroke="#000" stroke-width="1.5" />
<line x1="195.20" y1="556.00" x2="201.40" y2="556.00" stroke="#000" stroke-width="1.5" />
<text x="194.00" y="560.20" font-size="12" text-anchor="end" font-weight="normal" fill="#000" >0</text>
<line x1="195.20" y1="508.60" x2="201.40" y2="508.60" stroke="#000" stroke-width="1.5" />
<text x="194.00" y="512.80" font-size="12" text-anchor="end" font-weight="normal" fill="#000" >2</text>
<line x1="195.20" y1="461.20" x2="201.40" y2="461.20" stroke="#000" stroke-width="1.5" />
<text x="194.00" y="465.40" font-size="12" text-anchor="end" font-weight="normal" fill="#000" >4</text>
<line x1="195.20" y1="413.80" x2="201.40" y2="413.80" stroke="#000" stroke-width="1.5" />
<text x="194.00" y="418.00" font-size="12" text-anchor="end" font-weight="normal" fill="#000" >6</text>
<line x1="195.20" y1="527.80" x2="201.40" y2="527.80" stroke="#000" stroke-width="1.5" />
<line x1="220.60" y1="556.00" x2="220.60" y2="561.80" stroke="#000" stroke-width="1.5" />
<text transform="translate(223.80,573.50) rotate(-45)" font-size="11.7" text-anchor="end">Control</text>
<line x1="249.20" y1="556.00" x2="249.20" y2="561.80" stroke="#000" stroke-width="1.5" />
<text transform="translate(252.40,573.50) rotate(-45)" font-size="11.7" text-anchor="end">&#916;EM x2</text>
<line x1="296.80" y1="556.00" x2="296.80" y2="561.80" stroke="#000" stroke-width="1.5" />
<text transform="translate(300.00,573.50) rotate(-45)" font-size="11.7" text-anchor="end">Control</text>
<line x1="325.30" y1="556.00" x2="325.30" y2="561.80" stroke="#000" stroke-width="1.5" />
<text transform="translate(328.50,573.50) rotate(-45)" font-size="11.7" text-anchor="end">&#916;EM x2</text>
<path d="M220.60 433.60V425.60H249.20V519.00" fill="none" stroke="#000" stroke-width="1.6"/>
<path d="M234.80 414.10L234.80 419.90M232.29 415.55L237.31 418.45M232.29 418.45L237.31 415.55" stroke="#000" stroke-width="1.20" stroke-linecap="round" fill="none"/>
<ellipse cx="234.80" cy="417.00" rx="1.28" ry="0.99" fill="#000"/>
<path d="M296.80 468.40V425.40H325.30V518.60" fill="none" stroke="#000" stroke-width="1.6"/>
<path d="M310.70 414.10L310.70 419.90M308.19 415.55L313.21 418.45M308.19 418.45L313.21 415.55" stroke="#000" stroke-width="1.20" stroke-linecap="round" fill="none"/>
<ellipse cx="310.70" cy="417.00" rx="1.28" ry="0.99" fill="#000"/>
<rect x="390.85" y="502.90" width="17.7" height="53.10" fill="none" stroke="#000" stroke-width="1.5"/>
<rect x="419.35" y="527.80" width="17.7" height="28.20" fill="none" stroke="#000" stroke-width="1.5"/>
<rect x="466.75" y="504.40" width="17.7" height="51.60" fill="none" stroke="#000" stroke-width="1.5"/>
<rect x="495.15" y="527.80" width="17.7" height="28.20" fill="none" stroke="#000" stroke-width="1.5"/>
<line x1="399.70" y1="481.70" x2="399.70" y2="523.30" stroke="#3a3a3a" stroke-width="0.9" />
<line x1="395.10" y1="481.70" x2="404.30" y2="481.70" stroke="#3a3a3a" stroke-width="0.9" />
<line x1="395.10" y1="523.30" x2="404.30" y2="523.30" stroke="#3a3a3a" stroke-width="0.9" />
<line x1="475.60" y1="482.60" x2="475.60" y2="524.20" stroke="#2DC58C" stroke-width="0.9" />
<line x1="471.00" y1="482.60" x2="480.20" y2="482.60" stroke="#2DC58C" stroke-width="0.9" />
<line x1="471.00" y1="524.20" x2="480.20" y2="524.20" stroke="#2DC58C" stroke-width="0.9" />
<circle cx="399.70" cy="478.60" r="3.15" fill="#FF8000" stroke="#fff" stroke-opacity="0.35" stroke-width="0.5"/>
<circle cx="399.70" cy="485.70" r="3.15" fill="#FF8000" stroke="#fff" stroke-opacity="0.35" stroke-width="0.5"/>
<circle cx="399.70" cy="494.70" r="3.15" fill="#FF8000" stroke="#fff" stroke-opacity="0.35" stroke-width="0.5"/>
<circle cx="399.70" cy="501.40" r="3.15" fill="#FF8000" stroke="#fff" stroke-opacity="0.35" stroke-width="0.5"/>
<circle cx="393.30" cy="527.60" r="3.15" fill="#FF8000" stroke="#fff" stroke-opacity="0.35" stroke-width="0.5"/>
<circle cx="406.10" cy="527.60" r="3.15" fill="#FF8000" stroke="#fff" stroke-opacity="0.35" stroke-width="0.5"/>
<circle cx="421.90" cy="527.80" r="3.15" fill="#FF8000" stroke="#fff" stroke-opacity="0.35" stroke-width="0.5"/>
<circle cx="425.05" cy="527.80" r="3.15" fill="#FF8000" stroke="#fff" stroke-opacity="0.35" stroke-width="0.5"/>
<circle cx="428.20" cy="527.80" r="3.15" fill="#FF8000" stroke="#fff" stroke-opacity="0.35" stroke-width="0.5"/>
<circle cx="431.35" cy="527.80" r="3.15" fill="#FF8000" stroke="#fff" stroke-opacity="0.35" stroke-width="0.5"/>
<circle cx="434.50" cy="527.80" r="3.15" fill="#FF8000" stroke="#fff" stroke-opacity="0.35" stroke-width="0.5"/>
<rect x="466.05" y="479.65" width="5.9" height="5.9" fill="#00C000" stroke="#fff" stroke-opacity="0.3" stroke-width="0.4"/>
<rect x="479.15" y="479.65" width="5.9" height="5.9" fill="#00C000" stroke="#fff" stroke-opacity="0.3" stroke-width="0.4"/>
<rect x="472.45" y="489.15" width="5.9" height="5.9" fill="#00C000" stroke="#fff" stroke-opacity="0.3" stroke-width="0.4"/>
<rect x="472.45" y="505.95" width="5.9" height="5.9" fill="#00C000" stroke="#fff" stroke-opacity="0.3" stroke-width="0.4"/>
<rect x="466.05" y="524.85" width="5.9" height="5.9" fill="#00C000" stroke="#fff" stroke-opacity="0.3" stroke-width="0.4"/>
<rect x="479.15" y="524.85" width="5.9" height="5.9" fill="#00C000" stroke="#fff" stroke-opacity="0.3" stroke-width="0.4"/>
<rect x="494.65" y="524.85" width="5.9" height="5.9" fill="#00C000" stroke="#fff" stroke-opacity="0.3" stroke-width="0.4"/>
<rect x="497.85" y="524.85" width="5.9" height="5.9" fill="#00C000" stroke="#fff" stroke-opacity="0.3" stroke-width="0.4"/>
<rect x="501.05" y="524.85" width="5.9" height="5.9" fill="#00C000" stroke="#fff" stroke-opacity="0.3" stroke-width="0.4"/>
<rect x="504.25" y="524.85" width="5.9" height="5.9" fill="#00C000" stroke="#fff" stroke-opacity="0.3" stroke-width="0.4"/>
<rect x="507.45" y="524.85" width="5.9" height="5.9" fill="#00C000" stroke="#fff" stroke-opacity="0.3" stroke-width="0.4"/>
<line x1="379.90" y1="527.80" x2="522.30" y2="527.80" stroke="#000" stroke-width="1.2" stroke-dasharray="1.4 2.88"/>
<line x1="380.60" y1="413.05" x2="380.60" y2="556.75" stroke="#000" stroke-width="1.5" />
<line x1="379.85" y1="556.00" x2="523.30" y2="556.00" stroke="#000" stroke-width="1.5" />
<line x1="374.40" y1="556.00" x2="380.60" y2="556.00" stroke="#000" stroke-width="1.5" />
<text x="373.20" y="560.20" font-size="12" text-anchor="end" font-weight="normal" fill="#000" >0</text>
<line x1="374.40" y1="508.60" x2="380.60" y2="508.60" stroke="#000" stroke-width="1.5" />
<text x="373.20" y="512.80" font-size="12" text-anchor="end" font-weight="normal" fill="#000" >2</text>
<line x1="374.40" y1="461.20" x2="380.60" y2="461.20" stroke="#000" stroke-width="1.5" />
<text x="373.20" y="465.40" font-size="12" text-anchor="end" font-weight="normal" fill="#000" >4</text>
<line x1="374.40" y1="413.80" x2="380.60" y2="413.80" stroke="#000" stroke-width="1.5" />
<text x="373.20" y="418.00" font-size="12" text-anchor="end" font-weight="normal" fill="#000" >6</text>
<line x1="374.40" y1="527.80" x2="380.60" y2="527.80" stroke="#000" stroke-width="1.5" />
<line x1="399.70" y1="556.00" x2="399.70" y2="561.80" stroke="#000" stroke-width="1.5" />
<text transform="translate(402.90,573.50) rotate(-45)" font-size="11.7" text-anchor="end">Control</text>
<line x1="428.20" y1="556.00" x2="428.20" y2="561.80" stroke="#000" stroke-width="1.5" />
<text transform="translate(431.40,573.50) rotate(-45)" font-size="11.7" text-anchor="end">&#916;EM x2</text>
<line x1="475.60" y1="556.00" x2="475.60" y2="561.80" stroke="#000" stroke-width="1.5" />
<text transform="translate(478.80,573.50) rotate(-45)" font-size="11.7" text-anchor="end">Control</text>
<line x1="504.00" y1="556.00" x2="504.00" y2="561.80" stroke="#000" stroke-width="1.5" />
<text transform="translate(507.20,573.50) rotate(-45)" font-size="11.7" text-anchor="end">&#916;EM x2</text>
<path d="M399.70 470.00V461.90H428.20V518.60" fill="none" stroke="#000" stroke-width="1.6"/>
<path d="M414.30 448.10L414.30 453.90M411.79 449.55L416.81 452.45M411.79 452.45L416.81 449.55" stroke="#000" stroke-width="1.20" stroke-linecap="round" fill="none"/>
<ellipse cx="414.30" cy="451.00" rx="1.28" ry="0.99" fill="#000"/>
<path d="M475.60 474.00V461.70H504.00V518.60" fill="none" stroke="#000" stroke-width="1.6"/>
<path d="M490.30 448.10L490.30 453.90M487.79 449.55L492.81 452.45M487.79 452.45L492.81 449.55" stroke="#000" stroke-width="1.20" stroke-linecap="round" fill="none"/>
<ellipse cx="490.30" cy="451.00" rx="1.28" ry="0.99" fill="#000"/>
<rect x="552.15" y="473.40" width="17.7" height="82.60" fill="none" stroke="#000" stroke-width="1.5"/>
<rect x="580.75" y="527.80" width="17.7" height="28.20" fill="none" stroke="#000" stroke-width="1.5"/>
<rect x="627.95" y="479.30" width="17.7" height="76.70" fill="none" stroke="#000" stroke-width="1.5"/>
<rect x="656.55" y="527.80" width="17.7" height="28.20" fill="none" stroke="#000" stroke-width="1.5"/>
<line x1="561.00" y1="441.10" x2="561.00" y2="504.30" stroke="#3a3a3a" stroke-width="0.9" />
<line x1="556.40" y1="441.10" x2="565.60" y2="441.10" stroke="#3a3a3a" stroke-width="0.9" />
<line x1="556.40" y1="504.30" x2="565.60" y2="504.30" stroke="#3a3a3a" stroke-width="0.9" />
<line x1="636.80" y1="451.30" x2="636.80" y2="506.00" stroke="#3a3a3a" stroke-width="0.9" />
<line x1="632.20" y1="451.30" x2="641.40" y2="451.30" stroke="#3a3a3a" stroke-width="0.9" />
<line x1="632.20" y1="506.00" x2="641.40" y2="506.00" stroke="#3a3a3a" stroke-width="0.9" />
<circle cx="561.00" cy="442.10" r="3.15" fill="#FF8000" stroke="#fff" stroke-opacity="0.35" stroke-width="0.5"/>
<circle cx="554.30" cy="458.90" r="3.15" fill="#FF8000" stroke="#fff" stroke-opacity="0.35" stroke-width="0.5"/>
<circle cx="561.00" cy="456.40" r="3.15" fill="#FF8000" stroke="#fff" stroke-opacity="0.35" stroke-width="0.5"/>
<circle cx="567.60" cy="458.90" r="3.15" fill="#FF8000" stroke="#fff" stroke-opacity="0.35" stroke-width="0.5"/>
<circle cx="561.00" cy="492.10" r="3.15" fill="#FF8000" stroke="#fff" stroke-opacity="0.35" stroke-width="0.5"/>
<circle cx="561.00" cy="527.60" r="3.15" fill="#FF8000" stroke="#fff" stroke-opacity="0.35" stroke-width="0.5"/>
<circle cx="583.30" cy="527.80" r="3.15" fill="#FF8000" stroke="#fff" stroke-opacity="0.35" stroke-width="0.5"/>
<circle cx="586.48" cy="527.80" r="3.15" fill="#FF8000" stroke="#fff" stroke-opacity="0.35" stroke-width="0.5"/>
<circle cx="589.65" cy="527.80" r="3.15" fill="#FF8000" stroke="#fff" stroke-opacity="0.35" stroke-width="0.5"/>
<circle cx="592.83" cy="527.80" r="3.15" fill="#FF8000" stroke="#fff" stroke-opacity="0.35" stroke-width="0.5"/>
<circle cx="596.00" cy="527.80" r="3.15" fill="#FF8000" stroke="#fff" stroke-opacity="0.35" stroke-width="0.5"/>
<rect x="626.95" y="453.55" width="5.9" height="5.9" fill="#00C000" stroke="#fff" stroke-opacity="0.3" stroke-width="0.4"/>
<rect x="640.35" y="448.55" width="5.9" height="5.9" fill="#00C000" stroke="#fff" stroke-opacity="0.3" stroke-width="0.4"/>
<rect x="626.95" y="472.55" width="5.9" height="5.9" fill="#00C000" stroke="#fff" stroke-opacity="0.3" stroke-width="0.4"/>
<rect x="640.35" y="470.05" width="5.9" height="5.9" fill="#00C000" stroke="#fff" stroke-opacity="0.3" stroke-width="0.4"/>
<rect x="633.85" y="484.45" width="5.9" height="5.9" fill="#00C000" stroke="#fff" stroke-opacity="0.3" stroke-width="0.4"/>
<rect x="633.95" y="524.65" width="5.9" height="5.9" fill="#00C000" stroke="#fff" stroke-opacity="0.3" stroke-width="0.4"/>
<rect x="656.05" y="524.85" width="5.9" height="5.9" fill="#00C000" stroke="#fff" stroke-opacity="0.3" stroke-width="0.4"/>
<rect x="659.22" y="524.85" width="5.9" height="5.9" fill="#00C000" stroke="#fff" stroke-opacity="0.3" stroke-width="0.4"/>
<rect x="662.40" y="524.85" width="5.9" height="5.9" fill="#00C000" stroke="#fff" stroke-opacity="0.3" stroke-width="0.4"/>
<rect x="665.57" y="524.85" width="5.9" height="5.9" fill="#00C000" stroke="#fff" stroke-opacity="0.3" stroke-width="0.4"/>
<rect x="668.75" y="524.85" width="5.9" height="5.9" fill="#00C000" stroke="#fff" stroke-opacity="0.3" stroke-width="0.4"/>
<line x1="541.20" y1="527.80" x2="684.50" y2="527.80" stroke="#000" stroke-width="1.2" stroke-dasharray="1.4 2.88"/>
<line x1="541.90" y1="413.05" x2="541.90" y2="556.75" stroke="#000" stroke-width="1.5" />
<line x1="541.15" y1="556.00" x2="685.50" y2="556.00" stroke="#000" stroke-width="1.5" />
<line x1="535.70" y1="556.00" x2="541.90" y2="556.00" stroke="#000" stroke-width="1.5" />
<text x="534.50" y="560.20" font-size="12" text-anchor="end" font-weight="normal" fill="#000" >0</text>
<line x1="535.70" y1="508.60" x2="541.90" y2="508.60" stroke="#000" stroke-width="1.5" />
<text x="534.50" y="512.80" font-size="12" text-anchor="end" font-weight="normal" fill="#000" >2</text>
<line x1="535.70" y1="461.20" x2="541.90" y2="461.20" stroke="#000" stroke-width="1.5" />
<text x="534.50" y="465.40" font-size="12" text-anchor="end" font-weight="normal" fill="#000" >4</text>
<line x1="535.70" y1="413.80" x2="541.90" y2="413.80" stroke="#000" stroke-width="1.5" />
<text x="534.50" y="418.00" font-size="12" text-anchor="end" font-weight="normal" fill="#000" >6</text>
<line x1="535.70" y1="527.80" x2="541.90" y2="527.80" stroke="#000" stroke-width="1.5" />
<line x1="561.00" y1="556.00" x2="561.00" y2="561.80" stroke="#000" stroke-width="1.5" />
<text transform="translate(564.20,573.50) rotate(-45)" font-size="11.7" text-anchor="end">Control</text>
<line x1="589.60" y1="556.00" x2="589.60" y2="561.80" stroke="#000" stroke-width="1.5" />
<text transform="translate(592.80,573.50) rotate(-45)" font-size="11.7" text-anchor="end">&#916;EM x2</text>
<line x1="636.80" y1="556.00" x2="636.80" y2="561.80" stroke="#000" stroke-width="1.5" />
<text transform="translate(640.00,573.50) rotate(-45)" font-size="11.7" text-anchor="end">Control</text>
<line x1="665.40" y1="556.00" x2="665.40" y2="561.80" stroke="#000" stroke-width="1.5" />
<text transform="translate(668.60,573.50) rotate(-45)" font-size="11.7" text-anchor="end">&#916;EM x2</text>
<path d="M561.00 432.60V424.30H589.60V518.60" fill="none" stroke="#000" stroke-width="1.6"/>
<path d="M566.80 410.30L566.80 417.10M563.86 412.00L569.74 415.40M563.86 415.40L569.74 412.00" stroke="#000" stroke-width="1.41" stroke-linecap="round" fill="none"/>
<ellipse cx="566.80" cy="413.70" rx="1.50" ry="1.16" fill="#000"/>
<path d="M575.70 410.30L575.70 417.10M572.76 412.00L578.64 415.40M572.76 415.40L578.64 412.00" stroke="#000" stroke-width="1.41" stroke-linecap="round" fill="none"/>
<ellipse cx="575.70" cy="413.70" rx="1.50" ry="1.16" fill="#000"/>
<path d="M584.60 410.30L584.60 417.10M581.66 412.00L587.54 415.40M581.66 415.40L587.54 412.00" stroke="#000" stroke-width="1.41" stroke-linecap="round" fill="none"/>
<ellipse cx="584.60" cy="413.70" rx="1.50" ry="1.16" fill="#000"/>
<path d="M636.80 442.50V424.30H665.40V518.60" fill="none" stroke="#000" stroke-width="1.6"/>
<path d="M647.10 413.10L647.10 418.90M644.59 414.55L649.61 417.45M644.59 417.45L649.61 414.55" stroke="#000" stroke-width="1.20" stroke-linecap="round" fill="none"/>
<ellipse cx="647.10" cy="416.00" rx="1.28" ry="0.99" fill="#000"/>
<path d="M654.90 413.10L654.90 418.90M652.39 414.55L657.41 417.45M652.39 417.45L657.41 414.55" stroke="#000" stroke-width="1.20" stroke-linecap="round" fill="none"/>
<ellipse cx="654.90" cy="416.00" rx="1.28" ry="0.99" fill="#000"/>
</svg></body></html>
